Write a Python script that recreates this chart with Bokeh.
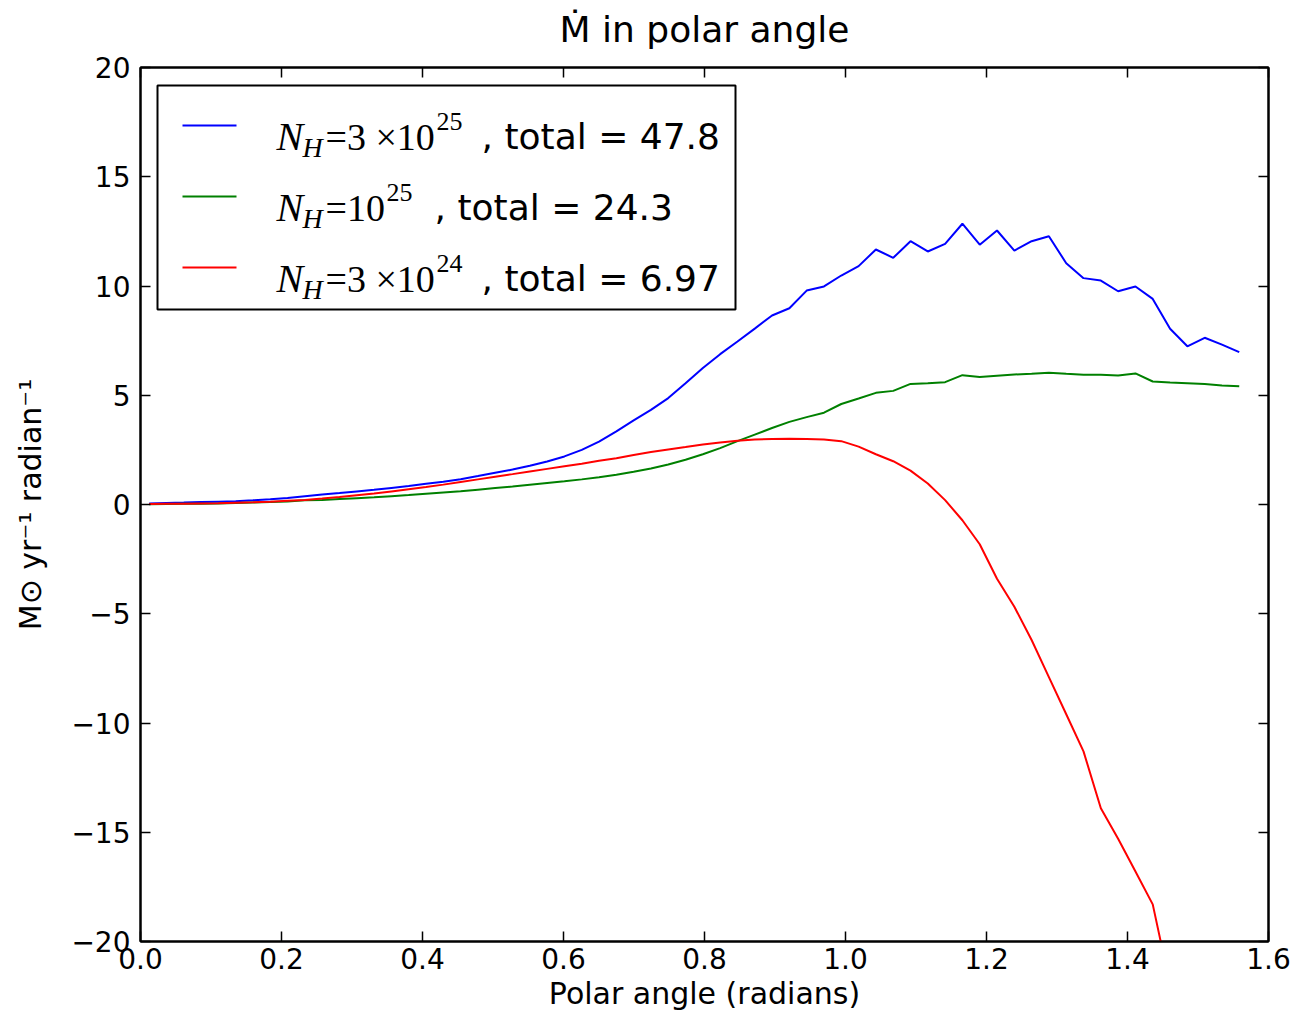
from bokeh.plotting import figure
from bokeh.models import Range1d, FixedTicker, LinearAxis, Label, BoxAnnotation, Arrow
from bokeh.embed import file_html
from bokeh.resources import INLINE

# polar angle bin centres (radians)
theta = [0.0123, 0.0368, 0.0614, 0.0859, 0.1104, 0.1350, 0.1595, 0.1841,
         0.2086, 0.2332, 0.2577, 0.2823, 0.3068, 0.3313, 0.3559, 0.3804,
         0.4050, 0.4295, 0.4541, 0.4786, 0.5031, 0.5277, 0.5522, 0.5768,
         0.6013, 0.6259, 0.6504, 0.6750, 0.6995, 0.7240, 0.7486, 0.7731,
         0.7977, 0.8222, 0.8468, 0.8713, 0.8958, 0.9204, 0.9449, 0.9695,
         0.9940, 1.0186, 1.0431, 1.0677, 1.0922, 1.1167, 1.1413, 1.1658,
         1.1904, 1.2149, 1.2395, 1.2640, 1.2885, 1.3131, 1.3376, 1.3622,
         1.3867, 1.4113, 1.4358, 1.4604, 1.4849, 1.5095, 1.5340, 1.5585]

# N_H = 3e25
mdot_a = [0.05, 0.07, 0.09, 0.11, 0.13, 0.15, 0.19, 0.24,
          0.30, 0.38, 0.46, 0.53, 0.60, 0.67, 0.76, 0.85,
          0.95, 1.04, 1.16, 1.30, 1.45, 1.60, 1.77, 1.97,
          2.20, 2.50, 2.88, 3.35, 3.85, 4.33, 4.87, 5.55,
          6.25, 6.88, 7.46, 8.05, 8.65, 8.98, 9.79, 9.98,
          10.48, 10.91, 11.67, 11.29, 12.05, 11.58, 11.93, 12.85,
          11.89, 12.54, 11.62, 12.05, 12.28, 11.04, 10.36, 10.25,
          9.76, 9.98, 9.41, 8.04, 7.24, 7.63, 7.32, 6.97]

# N_H = 1e25
mdot_b = [0.01, 0.02, 0.03, 0.04, 0.05, 0.07, 0.09, 0.11,
          0.14, 0.19, 0.21, 0.25, 0.29, 0.33, 0.38, 0.43,
          0.49, 0.55, 0.61, 0.68, 0.75, 0.82, 0.90, 0.98,
          1.06, 1.15, 1.25, 1.36, 1.50, 1.65, 1.83, 2.05,
          2.30, 2.58, 2.90, 3.20, 3.50, 3.78, 4.00, 4.20,
          4.60, 4.85, 5.11, 5.20, 5.52, 5.55, 5.60, 5.92,
          5.83, 5.89, 5.95, 5.98, 6.03, 5.98, 5.94, 5.94,
          5.90, 6.00, 5.63, 5.58, 5.55, 5.51, 5.45, 5.41]

# N_H = 3e24
mdot_c = [0.02, 0.03, 0.04, 0.05, 0.06, 0.08, 0.10, 0.13,
          0.17, 0.21, 0.27, 0.34, 0.42, 0.50, 0.60, 0.70,
          0.80, 0.91, 1.03, 1.15, 1.27, 1.39, 1.51, 1.63,
          1.75, 1.87, 2.00, 2.12, 2.27, 2.40, 2.52, 2.63,
          2.75, 2.84, 2.92, 2.97, 3.00, 3.01, 3.00, 2.98,
          2.90, 2.65, 2.30, 1.98, 1.55, 0.96, 0.20, -0.72,
          -1.82, -3.40, -4.68, -6.20, -7.90, -9.60, -11.30, -13.90,
          -15.30, -16.80, -18.30, -22.00, -26.00, -30.00, -34.00, -38.00]

x_ticks = [0.0, 0.2, 0.4, 0.6, 0.8, 1.0, 1.2, 1.4, 1.6]
y_ticks = [-20, -15, -10, -5, 0, 5, 10, 15, 20]

series_values = [mdot_a, mdot_b, mdot_c]
series_colors = ["#0000ff", "#008000", "#ff0000"]
series_mantissa = ["=3 \u00d710", "=10", "=3 \u00d710"]
series_exponent = ["25", "25", "24"]
series_total = ["47.8", "24.3", "6.97"]

title_text = "\u1e40 in polar angle"

FONT = "DejaVu Sans"

p = figure(width=1291, height=1013, output_backend="svg", toolbar_location=None,
           x_range=Range1d(0, 1.6), y_range=Range1d(-20, 20),
           min_border_left=140, min_border_right=23, min_border_top=67,
           min_border_bottom=72, background_fill_color="white",
           border_fill_color="white")

p.grid.visible = False
p.outline_line_color = "black"
p.outline_line_width = 2

for vals, col in zip(series_values, series_colors):
    p.line(theta, vals, line_color=col, line_width=2)

bottom_axis = p.below[0]
left_axis = p.left[0]

bottom_axis.ticker = FixedTicker(ticks=x_ticks)
left_axis.ticker = FixedTicker(ticks=y_ticks)
bottom_axis.major_label_overrides = {t: f"{t:.1f}" for t in x_ticks}
left_axis.major_label_overrides = {t: (str(t).replace("-", "\u2212")) for t in y_ticks}
bottom_axis.axis_label = "Polar angle (radians)"
left_axis.axis_label = "M\u2299 yr\u207b\u00b9 radian\u207b\u00b9"

top_axis = LinearAxis(ticker=FixedTicker(ticks=x_ticks))
right_axis = LinearAxis(ticker=FixedTicker(ticks=y_ticks))
p.add_layout(top_axis, "above")
p.add_layout(right_axis, "right")

for ax in [bottom_axis, left_axis, top_axis, right_axis]:
    ax.major_tick_in = 10
    ax.major_tick_out = 0
    ax.minor_tick_line_color = None
    ax.major_tick_line_color = "black"
    ax.major_tick_line_width = 1.5
    ax.axis_line_color = "black"
    ax.axis_line_width = 2
    ax.major_label_text_font = FONT
    ax.major_label_text_font_size = "28px"
    ax.major_label_text_color = "black"
    ax.axis_label_text_font = FONT
    ax.axis_label_text_font_size = "30px"
    ax.axis_label_text_font_style = "normal"
    ax.axis_label_text_color = "black"

for ax in [top_axis, right_axis]:
    ax.major_label_text_font_size = "1px"
    ax.major_label_text_color = None
    ax.major_label_standoff = 0

# the title is carried by the (label-less) top axis so that it sits above the frame
top_axis.axis_label = title_text
top_axis.axis_label_text_font_size = "36px"
top_axis.axis_label_standoff = 18

bottom_axis.major_label_standoff = 6
bottom_axis.axis_label_standoff = 4
left_axis.major_label_standoff = 10
left_axis.axis_label_standoff = 20

# legend (drawn in screen units relative to the plot frame)
p.add_layout(BoxAnnotation(left=17, right=595, bottom=632, top=856,
                           left_units="screen", right_units="screen",
                           bottom_units="screen", top_units="screen",
                           fill_color="white", fill_alpha=1.0,
                           line_color="black", line_width=2, line_alpha=1.0))

row_line_y = [816, 745, 674]
row_base_y = [805, 734, 663]
total_x = [341, 294, 341]
exp_x = [296, 246, 296]
for i in range(3):
    p.add_layout(Arrow(x_start=42, y_start=row_line_y[i], x_end=96, y_end=row_line_y[i],
                       start_units="screen", end_units="screen", end=None,
                       line_color=series_colors[i], line_width=2))
    by = row_base_y[i]
    p.add_layout(Label(x=136, y=by, x_units="screen", y_units="screen", text="N",
                       text_font="Liberation Serif", text_font_style="italic",
                       text_font_size="40px", text_baseline="alphabetic", text_color="black"))
    p.add_layout(Label(x=162, y=by - 11, x_units="screen", y_units="screen", text="H",
                       text_font="Liberation Serif", text_font_style="italic",
                       text_font_size="28px", text_baseline="alphabetic", text_color="black"))
    p.add_layout(Label(x=185, y=by, x_units="screen", y_units="screen", text=series_mantissa[i],
                       text_font="Liberation Serif", text_font_size="38px",
                       text_baseline="alphabetic", text_color="black"))
    p.add_layout(Label(x=exp_x[i], y=by + 15, x_units="screen", y_units="screen",
                       text=series_exponent[i], text_font="Liberation Serif",
                       text_font_size="26px", text_baseline="alphabetic", text_color="black"))
    p.add_layout(Label(x=total_x[i], y=by, x_units="screen", y_units="screen",
                       text=", total = " + series_total[i], text_font=FONT,
                       text_font_size="36px", text_baseline="alphabetic", text_color="black"))

open("out.html", "w").write(file_html(p, INLINE))
